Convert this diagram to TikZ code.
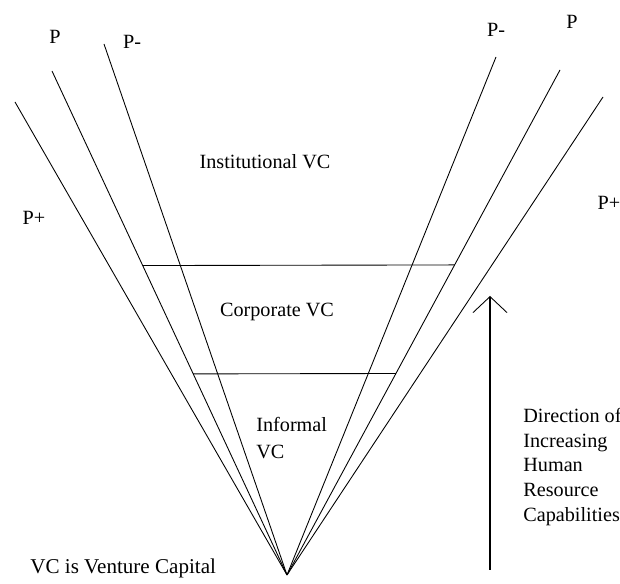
\documentclass[tikz,border=0pt]{standalone}
\usepackage{fontspec}
\setmainfont{Liberation Serif}
\usetikzlibrary{arrows.meta,calc}

\begin{document}
\begin{tikzpicture}[x=0.02cm,y=-0.02cm,
  lbl/.style={font=\fontsize{11.5}{14.2}\selectfont,inner sep=0pt},
  rayon/.style={line width=0.5pt}]

\useasboundingbox (0,0) rectangle (620,584);

% Sommet commun
\coordinate (V) at (287,575);

% Rayons gauche
\coordinate (PLplus) at (15,102);
\coordinate (PL) at (52,71);
\coordinate (PLmoins) at (104,44);
\draw[rayon] (PLplus) -- (V);
\draw[rayon] (PL) -- (V);
\draw[rayon] (PLmoins) -- (V);

% Rayons droite
\coordinate (PRmoins) at (496,57);
\coordinate (PR) at (560,70);
\coordinate (PRplus) at (603,97);
\draw[rayon] (PRmoins) -- (V);
\draw[rayon] (PR) -- (V);
\draw[rayon] (PRplus) -- (V);

% Etages
\draw[rayon] ($(PL)!0.386!(V)$) -- ($(PR)!0.386!(V)$);
\draw[rayon] ($(PL)!0.601!(V)$) -- ($(PR)!0.601!(V)$);

% Etiquettes des rayons
\node[lbl] (tPL) at (55,37) {P};
\node[lbl] (tPLmoins) at (132,42) {P-};
\node[lbl] (tPLplus) at (34,218) {P+};
\node[lbl] (tPRmoins) at (496,30) {P-};
\node[lbl] (tPR) at (572,22) {P};
\node[lbl] (tPRplus) at (609,203) {P+};

% Types de VC
\node[lbl] (inst) at (265,162) {Institutional VC};
\node[lbl] (corp) at (277,312) {Corporate VC};
\node[lbl,align=left,anchor=west,font=\fontsize{11.5}{15.4}\selectfont] (info) at (256,438) {Informal\\VC};
\node[lbl,anchor=west,font=\fontsize{12}{14}\selectfont] (legende) at (30,568) {VC is Venture Capital};

% Fleche direction
\coordinate (Abas) at (490,570);
\coordinate (Ahaut) at (490,296);
\draw[line width=0.8pt,-{Straight Barb[length=0.32cm,width=0.68cm,line width=0.5pt]}] (Abas) -- (Ahaut);
\node[lbl,align=left,anchor=west] (dir) at (523,467) {Direction of\\Increasing\\Human\\Resource\\Capabilities};

\end{tikzpicture}
\end{document}
